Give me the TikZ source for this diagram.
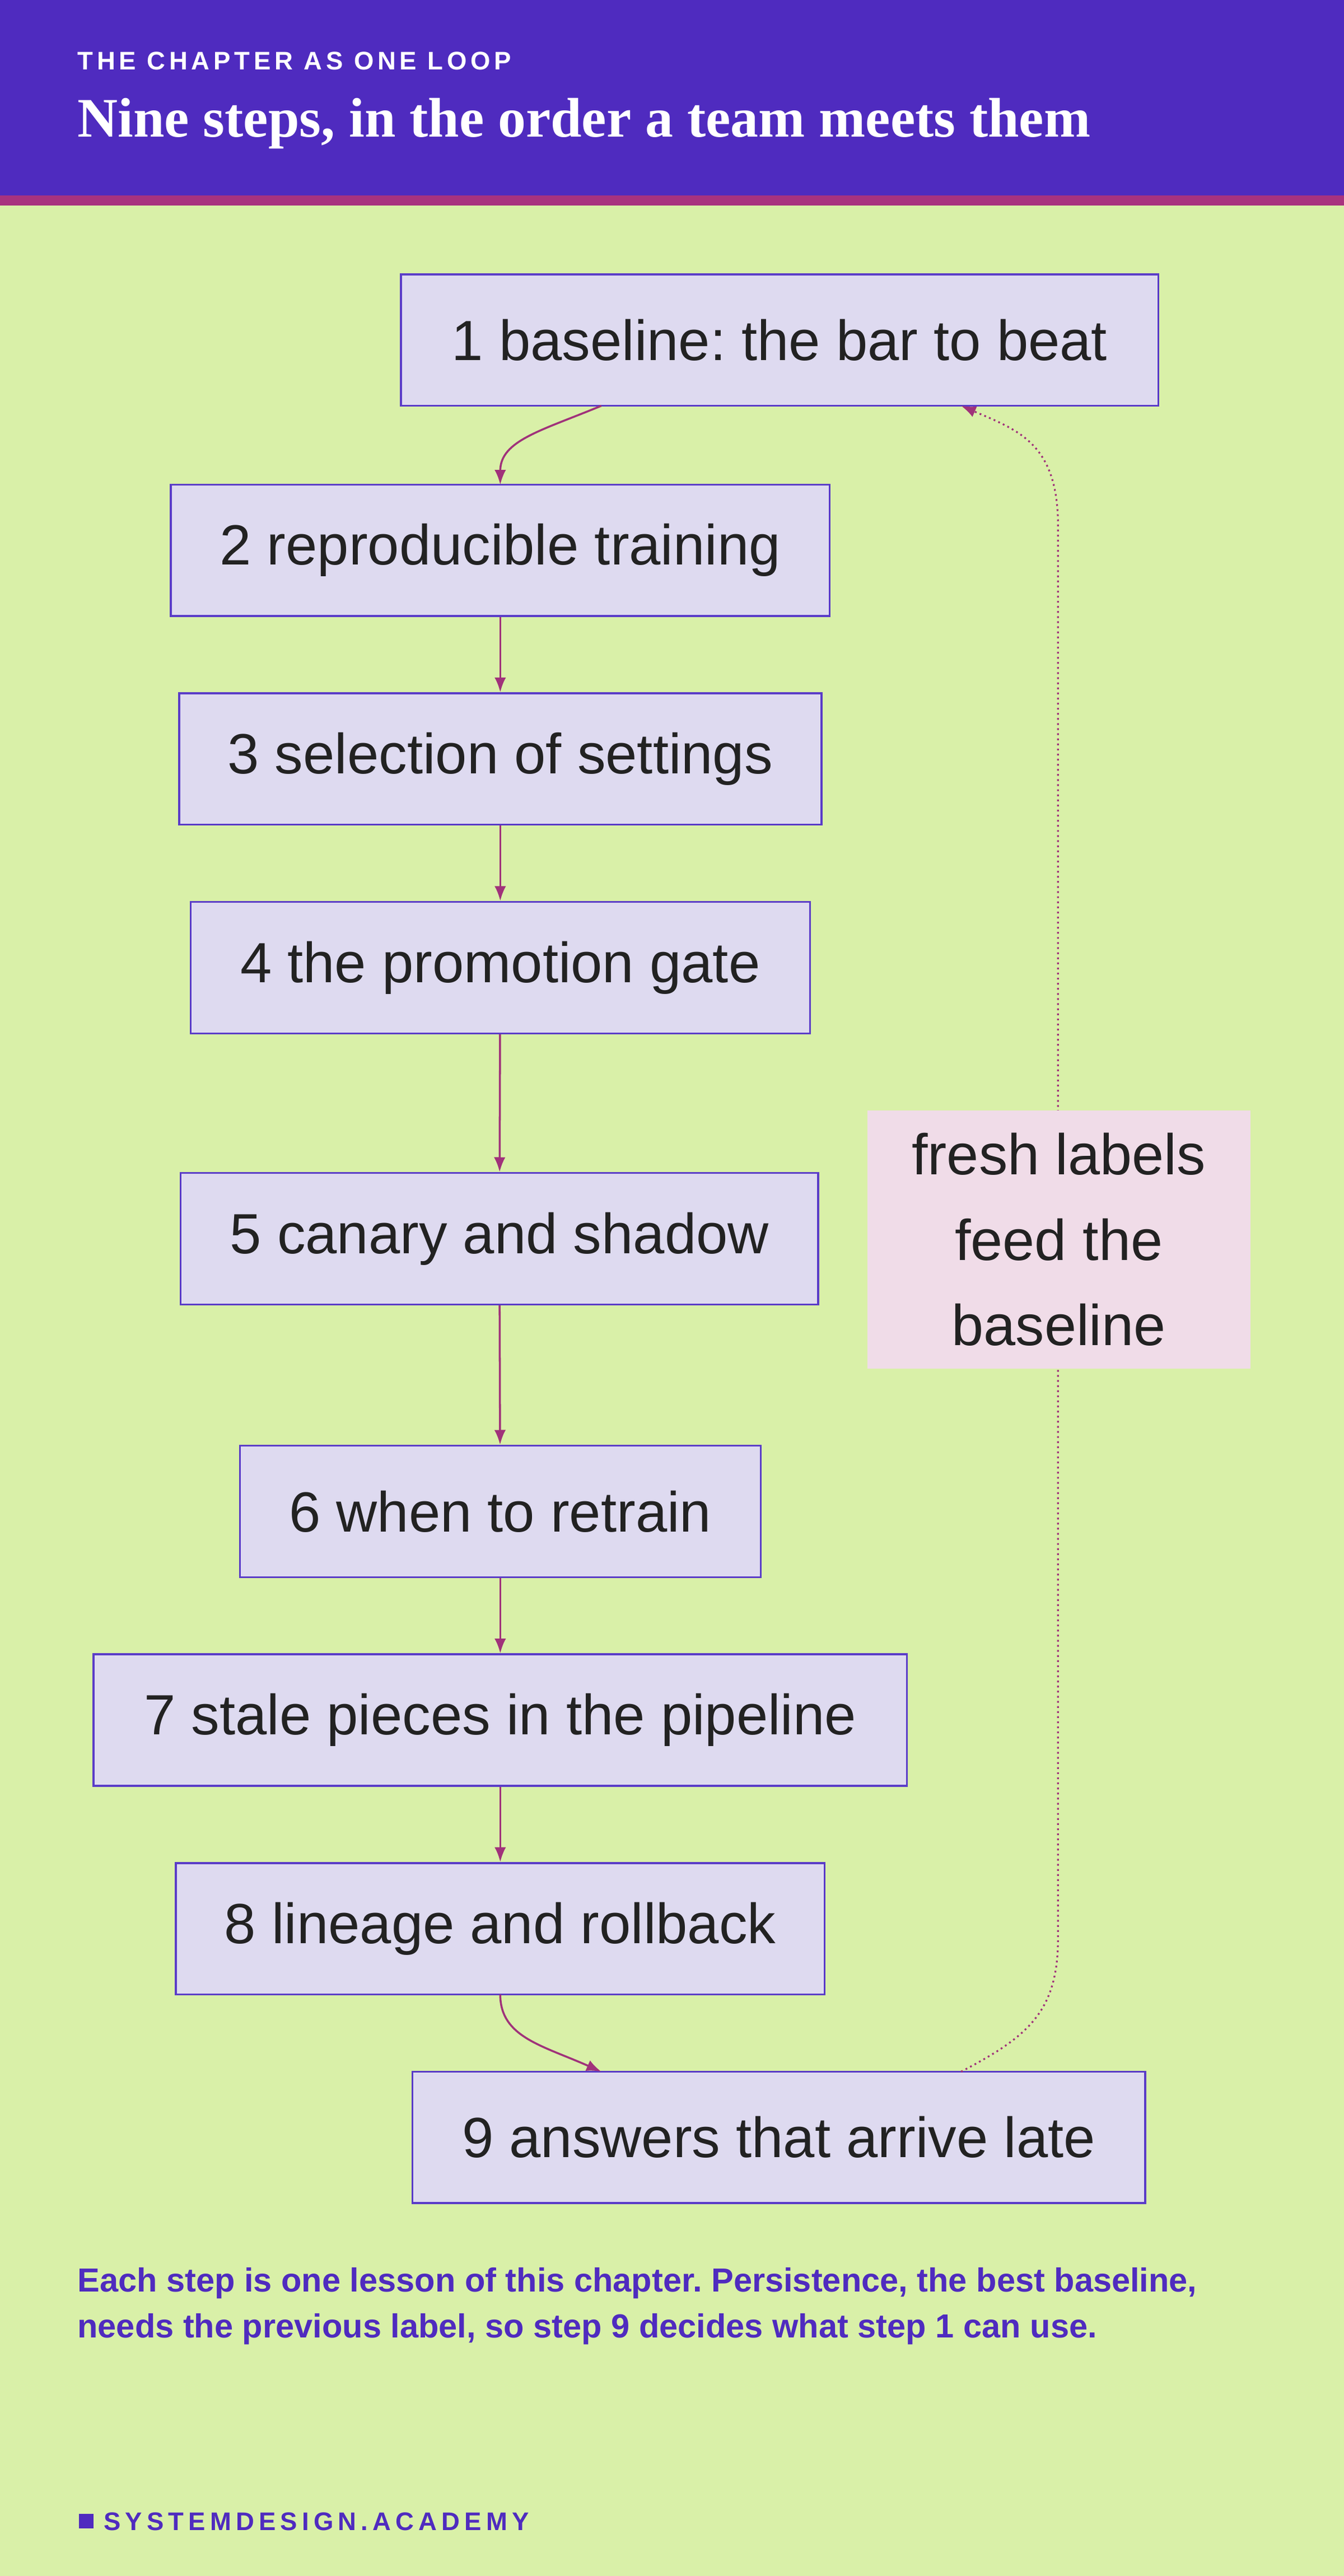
\documentclass[tikz,border=0pt]{standalone}
\usepackage{fontspec}
\setmainfont{Liberation Sans}
\newfontfamily\titlefont{Liberation Serif}
\usetikzlibrary{arrows.meta}
\definecolor{hdr}{HTML}{4F2BBF}
\definecolor{strip}{HTML}{A8327F}
\definecolor{bg}{HTML}{D9F0A8}
\definecolor{boxfill}{HTML}{DEDAF0}
\definecolor{boxline}{HTML}{5A3CC8}
\definecolor{arr}{HTML}{A0327A}
\definecolor{lblfill}{HTML}{F0DCE8}
\definecolor{txt}{HTML}{222222}
\tikzset{
 stepbox/.style={draw=boxline,fill=boxfill,line width=1.2pt,minimum height=80pt,inner sep=0pt,text=txt,font=\fontsize{34.5}{40}\selectfont},
 conn/.style={draw=arr,line width=1.2pt,-{Latex[length=9pt,width=7pt]}},
}
\begin{document}
\frenchspacing
\begin{tikzpicture}[x=1pt,y=-1pt]
\useasboundingbox (0,0) rectangle (818,1568);
\fill[bg] (0,0) rectangle (818,1568);
\fill[hdr] (0,0) rectangle (818,119);
\fill[strip] (0,119) rectangle (818,125);
\node[anchor=west,inner sep=0pt,text=white,font=\bfseries\fontsize{15.5}{18}\selectfont\addfontfeatures{LetterSpace=15}] (kick) at (47,37) {THE CHAPTER AS ONE LOOP};
\node[anchor=west,inner sep=0pt,text=white,font=\titlefont\bfseries\fontsize{34}{40}\selectfont] (title) at (47,75) {Nine steps, in the order a team meets them};
\node[stepbox,minimum width=461pt] (s1) at (474.5,207) {1 baseline: the bar to beat};
\node[stepbox,minimum width=401pt] (s2) at (304.5,335) {2 reproducible training};
\node[stepbox,minimum width=391pt] (s3) at (304.5,462) {3 selection of settings};
\node[stepbox,minimum width=377pt] (s4) at (304.5,589) {4 the promotion gate};
\node[stepbox,minimum width=388pt] (s5) at (304,754) {5 canary and shadow};
\node[stepbox,minimum width=317pt] (s6) at (304.5,920) {6 when to retrain};
\node[stepbox,minimum width=495pt] (s7) at (304.5,1047) {7 stale pieces in the pipeline};
\node[stepbox,minimum width=395pt] (s8) at (304.5,1174) {8 lineage and rollback};
\node[stepbox,minimum width=446pt] (s9) at (474,1301) {9 answers that arrive late};
\coordinate (a1) at (366,247);
\coordinate (b2) at (304.5,295);
\draw[conn] (a1) .. controls (330,262) and (304.5,268) .. (b2);
\draw[conn] (s2) -- (s3);
\draw[conn] (s3) -- (s4);
\draw[conn] (s4) -- (s5);
\draw[conn] (s5) -- (s6);
\draw[conn] (s6) -- (s7);
\draw[conn] (s7) -- (s8);
\coordinate (a8) at (304.5,1214);
\coordinate (b9) at (366,1261);
\draw[conn] (a8) .. controls (304.5,1240) and (330,1245) .. (b9);
\coordinate (l9) at (585,1261);
\coordinate (l1) at (585,247);
\draw[arr,line width=1.1pt,dotted,-{Latex[length=9pt,width=7pt]}] (l9) .. controls (625,1240) and (644,1225) .. (644,1180) -- (644,320) .. controls (644,270) and (620,262) .. (l1);
\node[fill=lblfill,minimum width=233pt,minimum height=157pt,text=txt,align=center,font=\fontsize{35}{52}\selectfont] (lbl) at (644.5,754.5) {fresh labels\\feed the\\baseline};
\node[anchor=north west,inner sep=0pt,text=hdr,align=left,font=\bfseries\fontsize{20.3}{28}\selectfont] (note) at (47,1380) {Each step is one lesson of this chapter. Persistence, the best baseline,\\needs the previous label, so step 9 decides what step 1 can use.};
\fill[hdr] (48,1530) rectangle (57,1539);
\node[anchor=west,inner sep=0pt,text=hdr,font=\bfseries\fontsize{15.5}{18}\selectfont\addfontfeatures{LetterSpace=18}] (foot) at (63,1535) {SYSTEMDESIGN.ACADEMY};
\end{tikzpicture}
\end{document}
